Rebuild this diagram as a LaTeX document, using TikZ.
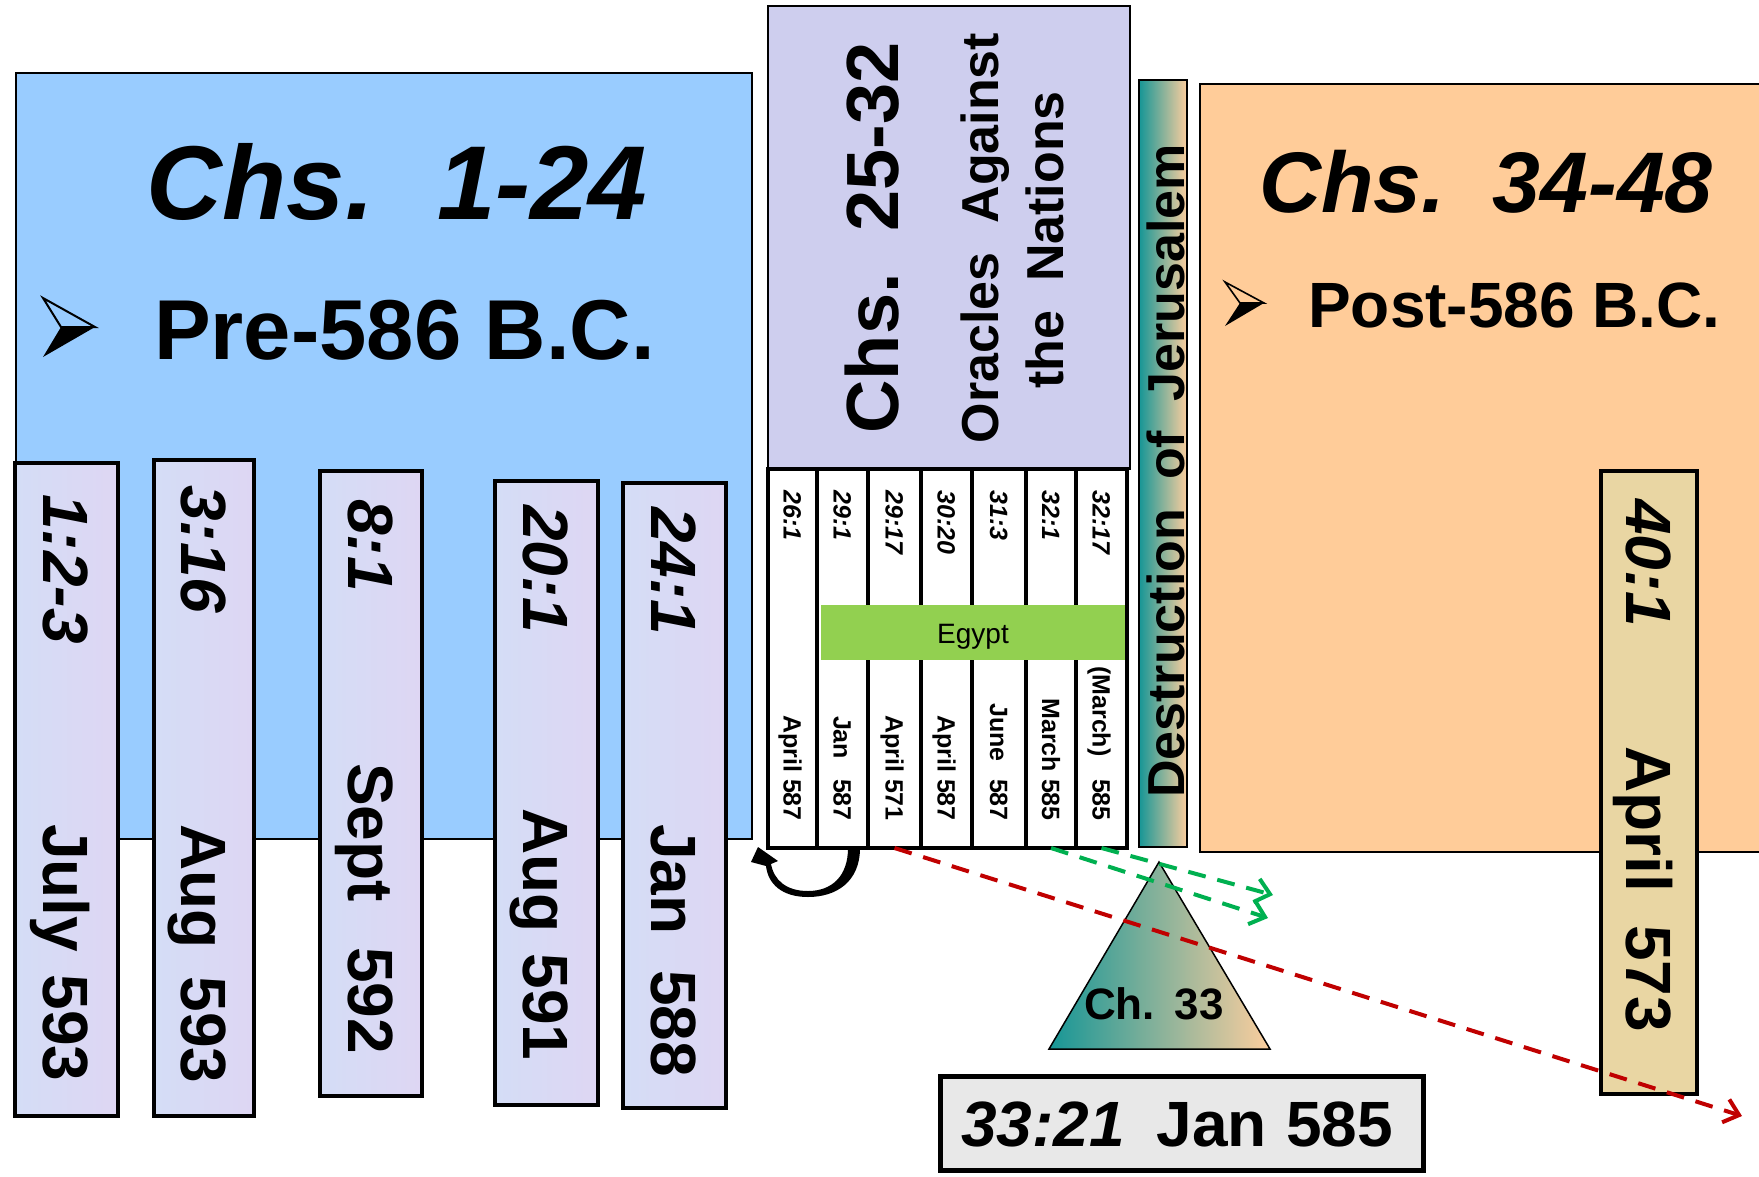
\documentclass[tikz,border=0pt]{standalone}
\usepackage{fontspec}
\setmainfont{Liberation Sans}
\usetikzlibrary{arrows.meta,fit}
\definecolor{bluebox}{RGB}{153,204,255}
\definecolor{purplebox}{RGB}{206,206,238}
\definecolor{peachbox}{RGB}{255,204,153}
\definecolor{tealc}{RGB}{22,150,150}
\definecolor{peachg}{RGB}{252,206,158}
\definecolor{egyptg}{RGB}{146,208,80}
\definecolor{stripc}{RGB}{212,221,246}
\definecolor{stripd}{RGB}{222,214,243}
\definecolor{papyrus}{RGB}{233,214,163}
\definecolor{greyc}{RGB}{232,232,232}
\definecolor{redd}{RGB}{192,0,0}
\definecolor{greend}{RGB}{0,176,80}
\newcommand{\fsz}[1]{\fontsize{#1}{#1}\selectfont}
\begin{document}
\begin{tikzpicture}[x=1pt,y=-1pt,
  area/.style={draw=black,line width=2pt,inner sep=0pt,outer sep=0pt},
  stripbox/.style={draw=black,line width=4.5pt,left color=stripc,right color=stripd,inner sep=0pt,outer sep=0pt},
  papbox/.style={draw=black,line width=4.5pt,fill=papyrus,inner sep=0pt,outer sep=0pt},
  colbox/.style={draw=black,line width=3.5pt,fill=white,inner sep=0pt,outer sep=0pt},
  vdownbig/.style={rotate=-90,inner sep=0pt,text height=46pt,text depth=0pt},
  vdownsmall/.style={rotate=-90,inner sep=0pt,text height=18pt,text depth=0pt},
  refbig/.style={vdownbig,anchor=west,font=\bfseries\itshape\fsz{64}},
  datebig/.style={vdownbig,anchor=west,font=\bfseries\fsz{64}},
  refsmall/.style={vdownsmall,anchor=west,font=\bfseries\itshape\fsz{25}},
  datesmall/.style={vdownsmall,anchor=east,font=\bfseries\fsz{25}},
  vup/.style={rotate=90,inner sep=0pt,anchor=base},
  reddash/.style={draw=redd,line width=4pt,dash pattern=on 18pt off 12pt,-{Straight Barb[length=14pt,width=24pt]}},
  greendash/.style={draw=greend,line width=4pt,dash pattern=on 18pt off 12pt,-{Straight Barb[length=14pt,width=24pt]}}
]
\fill[white] (0,0) rectangle (1759,1176);
\useasboundingbox (0,0) rectangle (1759,1176);

% main panels
\node[area,fill=bluebox,fit={(16,73)(752,839)}] (pre) {};
\node[area,fill=purplebox,fit={(768,6)(1130,469)}] (oracles) {};
\node[inner sep=0pt,outer sep=0pt,fill=peachbox,fit={(1200,84)(1765,852)}] (post) {};
\draw[line width=2pt] (post.north east) -- (post.north west) -- (post.south west) -- (post.south east);
\node[inner sep=0pt,outer sep=0pt,left color=tealc,right color=peachg,draw=black,line width=2pt,fit={(1139,80)(1187,847)}] (destr) {};

% titles
\node[anchor=base,inner sep=0pt,font=\bfseries\itshape\fsz{105}] (chs124) at (397,219) {Chs.\hspace{0.6em}1-24};
\draw[line width=2pt,line join=miter] (43,298) -- (95,327) -- (61,327) -- cycle;
\fill (61,327) -- (95,327) -- (43,357) -- cycle;
\node[anchor=base west,inner sep=0pt,font=\bfseries\fsz{85}] (pre586) at (154,359) {Pre-586 B.C.};

\node[anchor=base,inner sep=0pt,font=\bfseries\itshape\fsz{86}] (chs3448) at (1486,212) {Chs.\hspace{0.55em}34-48};
\draw[line width=1.6pt,line join=miter] (1225,282) -- (1264,303) -- (1240,303) -- cycle;
\fill (1240,303) -- (1264,303) -- (1225,326) -- cycle;
\node[anchor=base west,inner sep=0pt,font=\bfseries\fsz{64}] (post586) at (1308,327) {Post-586 B.C.};

\node[vup,font=\bfseries\fsz{74}] (chs2532) at (898,238) {Chs.\hspace{0.56em}25-32};
\node[vup,font=\bfseries\fsz{52}] (orac1) at (998,238) {Oracles\hspace{0.56em}Against};
\node[vup,font=\bfseries\fsz{52}] (orac2) at (1063,240) {the\hspace{0.56em}Nations};
\node[vup,font=\bfseries\fsz{52}] (destrtext) at (1184,471) {Destruction\hspace{0.56em}of\hspace{0.56em}Jerusalem};

% columns under Chs. 25-32
\node[colbox,fit={(768,469)(817,848)}] (c1) {};
\node[colbox,fit={(817,469)(868,848)}] (c2) {};
\node[colbox,fit={(868,469)(921,848)}] (c3) {};
\node[colbox,fit={(921,469)(972,848)}] (c4) {};
\node[colbox,fit={(972,469)(1026,848)}] (c5) {};
\node[colbox,fit={(1026,469)(1076,848)}] (c6) {};
\node[colbox,fit={(1076,469)(1127,848)}] (c7) {};
\node[inner sep=0pt,outer sep=0pt,fill=egyptg,fit={(821,605)(1125,660)}] (egypt) {};
\node[anchor=base,inner sep=0pt,font=\fsz{28}] (egypttext) at (973,643) {Egypt};

\node[refsmall] (r1) at (792.5,490) {26:1};
\node[refsmall] (r2) at (842.5,490) {29:1};
\node[refsmall] (r3) at (894.5,490) {29:17};
\node[refsmall] (r4) at (946.5,490) {30:20};
\node[refsmall] (r5) at (999,490) {31:3};
\node[refsmall] (r6) at (1051,490) {32:1};
\node[refsmall] (r7) at (1101.5,490) {32:17};
\node[datesmall] (d1) at (792.5,821) {April 587};
\node[datesmall] (d2) at (842.5,821) {Jan\hspace{0.8em}587};
\node[datesmall] (d3) at (894.5,821) {April 571};
\node[datesmall] (d4) at (946.5,821) {April 587};
\node[datesmall] (d5) at (999,821) {June\hspace{0.7em}587};
\node[datesmall] (d6) at (1051,821) {March 585};
\node[datesmall] (d7) at (1101.5,821) {(March)\hspace{0.9em}585};

% strips of chs 1-24
\node[stripbox,fit={(15,463)(118,1116)}] (s1) {};
\node[stripbox,fit={(154,460)(254,1116)}] (s2) {};
\node[stripbox,fit={(320,471)(422,1096)}] (s3) {};
\node[stripbox,fit={(495,481)(598,1105)}] (s4) {};
\node[stripbox,fit={(623,483)(726,1108)}] (s5) {};
\node[refbig] (s1a) at (66.5,494) {1:2-3};
\node[datebig] (s1b) at (66.5,824) {July\hspace{0.35em}593};
\node[refbig] (s2a) at (204,485) {3:16};
\node[datebig] (s2b) at (204,824) {Aug\hspace{0.44em}593};
\node[refbig] (s3a) at (371,499) {8:1};
\node[datebig] (s3b) at (371,763) {Sept\hspace{0.71em}592};
\node[refbig] (s4a) at (546.5,505) {20:1};
\node[datebig] (s4b) at (546.5,808) {Aug\hspace{0.33em}591};
\node[refbig] (s5a) at (674.5,507) {24:1};
\node[datebig] (s5b) at (674.5,824) {Jan\hspace{0.56em}588};

% strip of chs 34-48
\node[papbox,fit={(1601,471)(1697,1094)}] (s40) {};
\node[refbig] (s40a) at (1649,499) {40:1};
\node[datebig] (s40b) at (1649,746) {April\hspace{0.52em}573};

% chapter 33
\shadedraw[left color=tealc,right color=peachg,draw=black,line width=1.5pt] (1159,862) -- (1270,1049) -- (1049,1049) -- cycle;
\node[anchor=base,inner sep=0pt,font=\bfseries\fsz{44}] (ch33) at (1154,1019) {Ch.\hspace{0.45em}33};
\node[inner sep=0pt,outer sep=0pt,draw=black,line width=5pt,fill=greyc,fit={(940,1076)(1423,1170)}] (b3321) {};
\node[anchor=base,inner sep=0pt,font=\bfseries\fsz{64}] (t3321) at (1177,1146) {\itshape 33:21\hspace{0.5em}\upshape Jan\hspace{0.3em}585};

% curved arrow
\fill (848,848) -- (860,848) .. controls (860,882) and (836,897) .. (808,897)
  .. controls (782,897) and (768,884) .. (766,866) -- (751,862) -- (758,847) -- (778,861) -- (771,864)
  .. controls (774,880) and (786,891) .. (808,891) .. controls (832,891) and (848,876) .. (848,848) -- cycle;

% dashed connectors
\coordinate (redend) at (1742,1116);
\coordinate (gend1) at (1268,918);
\coordinate (gend2) at (1273,895);
\draw[reddash] (c3.south) -- (redend);
\draw[greendash] (c6.south) -- (gend1);
\draw[greendash] (c7.south) -- (gend2);
\end{tikzpicture}
\end{document}
